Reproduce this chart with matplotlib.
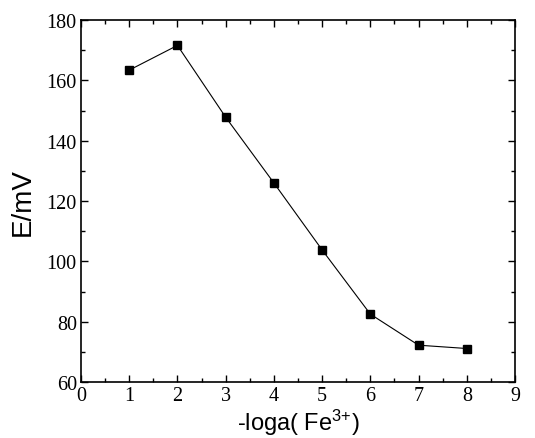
import matplotlib
matplotlib.use("Agg")
import matplotlib.pyplot as plt
from matplotlib.ticker import MultipleLocator

# Electrode potential vs. -log a(Fe3+)
neg_log_a = [1, 2, 3, 4, 5, 6, 7, 8]
potential_mv = [163.4, 171.6, 147.8, 126.0, 103.8, 82.5, 72.2, 71.1]

plt.rcParams['mathtext.default'] = 'regular'
plt.rcParams['mathtext.fontset'] = 'custom'
plt.rcParams['mathtext.rm'] = 'Liberation Sans'

fig = plt.figure(figsize=(5.35, 4.39), dpi=100)
ax = fig.add_axes([0.1514, 0.1276, 0.8112, 0.8244])

ax.plot(neg_log_a, potential_mv, color='black', linewidth=0.8,
        marker='s', markersize=6, markerfacecolor='black', markeredgecolor='black')

ax.set_xlim(0, 9)
ax.set_ylim(60, 180)
ax.xaxis.set_major_locator(MultipleLocator(1))
ax.xaxis.set_minor_locator(MultipleLocator(0.5))
ax.yaxis.set_major_locator(MultipleLocator(20))
ax.yaxis.set_minor_locator(MultipleLocator(10))

ax.tick_params(which='both', direction='in', top=True, right=True, width=1)
ax.tick_params(which='major', length=5, labelsize=14.5, pad=3)
ax.tick_params(which='minor', length=3)
for lbl in ax.get_xticklabels() + ax.get_yticklabels():
    lbl.set_fontfamily('Liberation Serif')
for sp in ax.spines.values():
    sp.set_linewidth(1.2)

ax.set_xlabel('-loga( Fe$^{3{+}}$)', fontsize=17, family='Liberation Sans', labelpad=1)
ax.set_ylabel('E/mV', fontsize=20, family='Liberation Sans', labelpad=8)

fig.savefig('out.png', dpi=100)
